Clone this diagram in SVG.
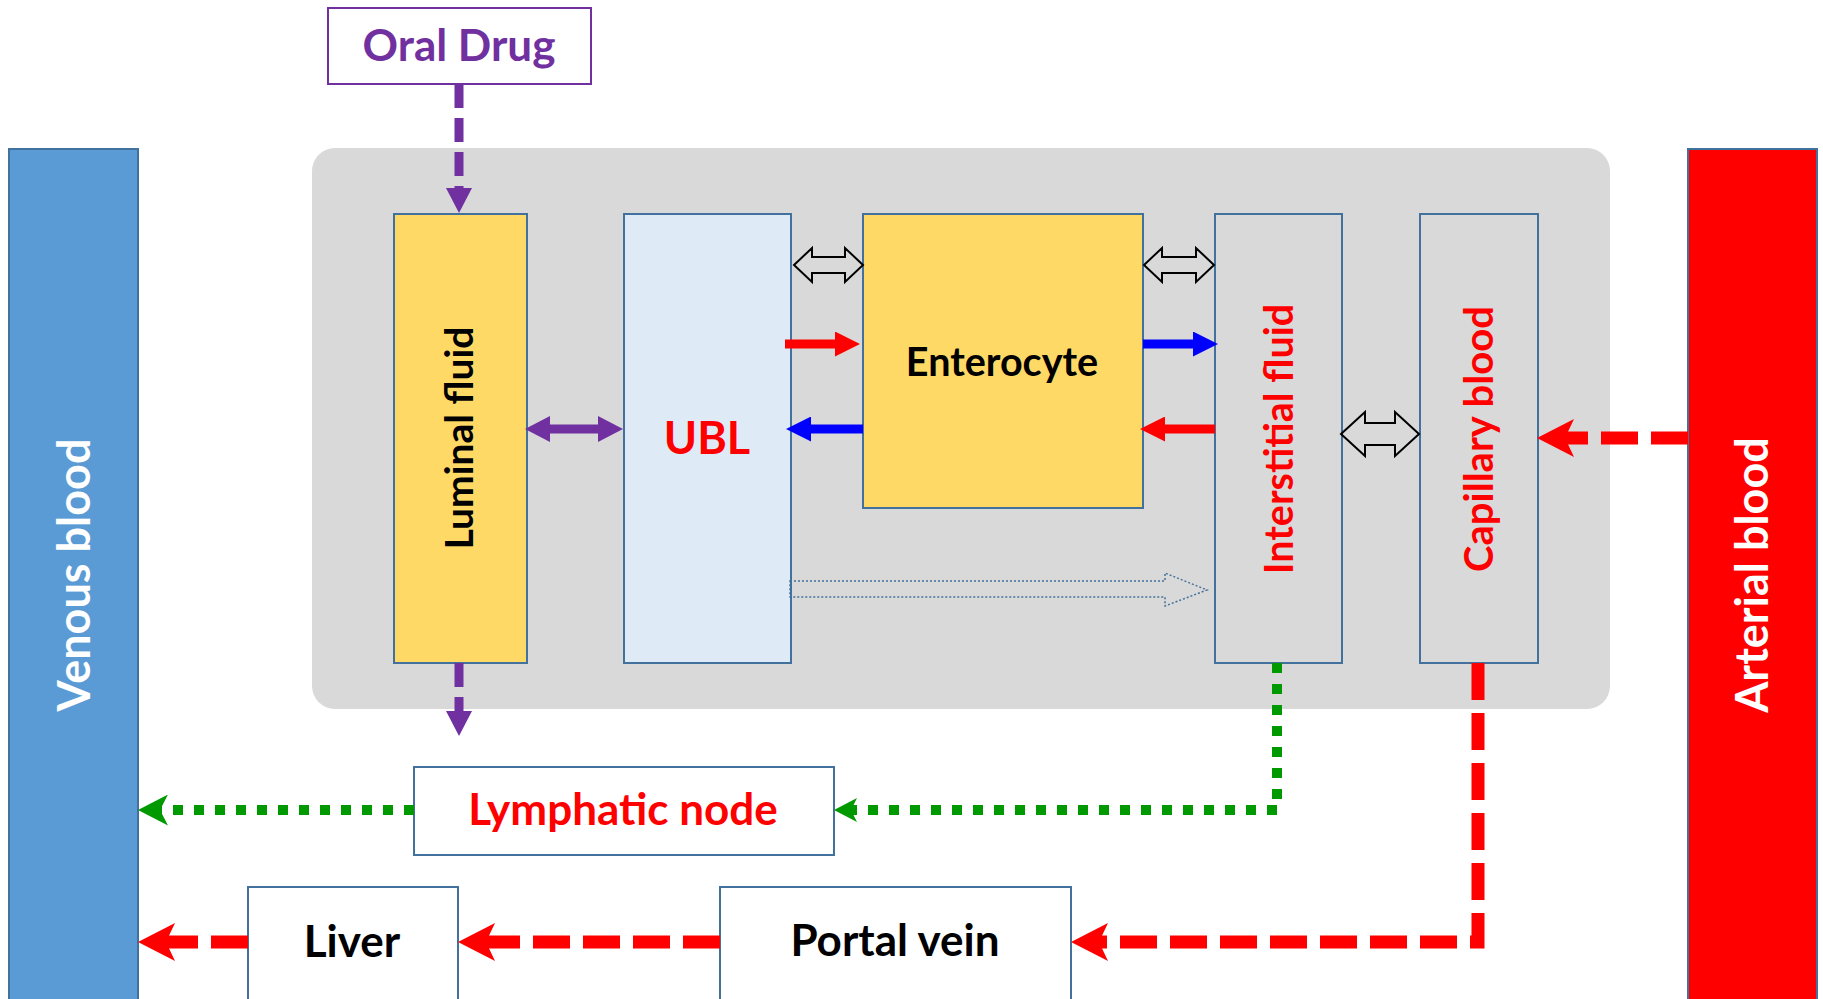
<svg xmlns="http://www.w3.org/2000/svg" width="1823" height="999" viewBox="0 0 1823 999">
<style>
  .box { stroke: #41719C; stroke-width: 2; }
  .t { font-family: Lato, "Liberation Sans", sans-serif; font-weight: bold; text-anchor: middle; }
  .hollow { fill: none; stroke: #000; stroke-width: 2; stroke-linejoin: miter; }
  .reddash { fill: none; stroke: #FF0000; stroke-width: 13; stroke-dasharray: 37 13; }
  .greendot { fill: none; stroke: #009900; stroke-width: 10; stroke-dasharray: 10 11; }
  .purpledash { fill: none; stroke: #7030A0; stroke-width: 9; stroke-dasharray: 24 10; }
  .solid { fill: none; stroke-width: 9; }
</style>
<defs>
  <marker id="hRed" markerUnits="userSpaceOnUse" markerWidth="37" markerHeight="38" viewBox="0 0 37 38" refX="9" refY="19" orient="auto"><path d="M0,0 L37,19 L0,38 L9,19 Z" fill="#FF0000"/></marker>
  <marker id="hGreenS" markerUnits="userSpaceOnUse" markerWidth="23" markerHeight="24" viewBox="0 0 23 24" refX="6" refY="12" orient="auto"><path d="M0,0 L23,12 L0,24 L6,12 Z" fill="#009900"/></marker>
  <marker id="hGreenL" markerUnits="userSpaceOnUse" markerWidth="30" markerHeight="31" viewBox="0 0 30 31" refX="8" refY="15.5" orient="auto"><path d="M0,0 L30,15.5 L0,31 L8,15.5 Z" fill="#009900"/></marker>
  <marker id="hPurple" markerUnits="userSpaceOnUse" markerWidth="25" markerHeight="26" viewBox="0 0 25 26" refX="0" refY="13" orient="auto-start-reverse"><path d="M0,0 L25,13 L0,26 Z" fill="#7030A0"/></marker>
  <marker id="hRedS" markerUnits="userSpaceOnUse" markerWidth="25" markerHeight="25" viewBox="0 0 25 25" refX="0" refY="12.5" orient="auto"><path d="M0,0 L25,12.5 L0,25 Z" fill="#FF0000"/></marker>
  <marker id="hBlueS" markerUnits="userSpaceOnUse" markerWidth="25" markerHeight="25" viewBox="0 0 25 25" refX="0" refY="12.5" orient="auto"><path d="M0,0 L25,12.5 L0,25 Z" fill="#0000FF"/></marker>
</defs>

<rect x="312" y="148" width="1298" height="561" rx="23" fill="#D9D9D9"/>

<g id="venous-blood">
  <rect class="box" x="9" y="149" width="129" height="870" fill="#5B9BD5"/>
  <text class="t" transform="translate(90,575) rotate(-90)" font-size="45" fill="#FFFFFF">Venous blood</text>
</g>
<g id="arterial-blood">
  <rect class="box" x="1688" y="149" width="129" height="870" fill="#FF0000"/>
  <text class="t" transform="translate(1768,575) rotate(-90)" font-size="45" fill="#FFFFFF">Arterial blood</text>
</g>
<g id="oral-drug">
  <rect x="328" y="8" width="263" height="76" fill="#FFFFFF" stroke="#7030A0" stroke-width="2"/>
  <text class="t" x="459" y="61" font-size="44" fill="#7030A0">Oral Drug</text>
</g>
<g id="luminal-fluid">
  <rect class="box" x="394" y="214" width="133" height="449" fill="#FFD966"/>
  <text class="t" transform="translate(473,438) rotate(-90)" font-size="39" fill="#000000">Luminal fluid</text>
</g>
<g id="ubl">
  <rect class="box" x="624" y="214" width="167" height="449" fill="#DEEBF7"/>
  <text class="t" x="707" y="454" font-size="45" fill="#FF0000">UBL</text>
</g>
<g id="enterocyte">
  <rect class="box" x="863" y="214" width="280" height="294" fill="#FFD966"/>
  <text class="t" x="1002" y="376" font-size="39.5" fill="#000000">Enterocyte</text>
</g>
<g id="interstitial-fluid">
  <rect class="box" x="1215" y="214" width="127" height="449" fill="#D9D9D9"/>
  <text class="t" transform="translate(1293,439) rotate(-90)" font-size="39.5" fill="#FF0000">Interstitial fluid</text>
</g>
<g id="capillary-blood">
  <rect class="box" x="1420" y="214" width="118" height="449" fill="#D9D9D9"/>
  <text class="t" transform="translate(1493,439) rotate(-90)" font-size="40" fill="#FF0000">Capillary blood</text>
</g>
<g id="lymphatic-node">
  <rect class="box" x="414" y="767" width="420" height="88" fill="#FFFFFF"/>
  <text class="t" x="623" y="825" font-size="44" fill="#FF0000">Lymphatic node</text>
</g>
<g id="liver">
  <rect class="box" x="248" y="887" width="210" height="130" fill="#FFFFFF"/>
  <text class="t" x="352" y="957" font-size="44" fill="#000000">Liver</text>
</g>
<g id="portal-vein">
  <rect class="box" x="720" y="887" width="351" height="130" fill="#FFFFFF"/>
  <text class="t" x="895" y="956" font-size="44" fill="#000000">Portal vein</text>
</g>

<g id="connectors">
  <path class="purpledash" d="M459,84 V188" marker-end="url(#hPurple)"/>
  <path class="purpledash" d="M459,663 V711" marker-end="url(#hPurple)"/>
  <path class="solid" stroke="#7030A0" d="M550,429 H598" marker-start="url(#hPurple)" marker-end="url(#hPurple)"/>
  <path class="solid" stroke="#FF0000" d="M785,344 H835" marker-end="url(#hRedS)"/>
  <path class="solid" stroke="#0000FF" d="M863,429 H811" marker-end="url(#hBlueS)"/>
  <path class="solid" stroke="#0000FF" d="M1143,344 H1193" marker-end="url(#hBlueS)"/>
  <path class="solid" stroke="#FF0000" d="M1215,429 H1165" marker-end="url(#hRedS)"/>
  <path class="hollow" d="M794,265 L812,248 L812,257 L845,257 L845,248 L863,265 L845,282 L845,273 L812,273 L812,282 Z"/>
  <path class="hollow" d="M1144,265 L1162,248 L1162,257 L1196,257 L1196,248 L1214,265 L1196,282 L1196,273 L1162,273 L1162,282 Z"/>
  <path class="hollow" d="M1341,434 L1365,412 L1365,423 L1395,423 L1395,412 L1419,434 L1395,456 L1395,445 L1365,445 L1365,456 Z"/>
  <path d="M790,581 H1165 V573 L1207,590 L1165,606 V597 H790 Z" fill="none" stroke="#41719C" stroke-width="1.5" stroke-dasharray="2 2"/>
  <path class="reddash" d="M1688,438 H1565" marker-end="url(#hRed)"/>
  <path class="reddash" d="M1478,663 V942 H1099" marker-end="url(#hRed)"/>
  <path class="reddash" d="M720,942 H486" marker-end="url(#hRed)"/>
  <path class="reddash" d="M248,942 H166" marker-end="url(#hRed)"/>
  <path class="greendot" d="M1277,663 V810 H851" marker-end="url(#hGreenS)"/>
  <path class="greendot" d="M414,810 H160" marker-end="url(#hGreenL)"/>
</g>
</svg>
